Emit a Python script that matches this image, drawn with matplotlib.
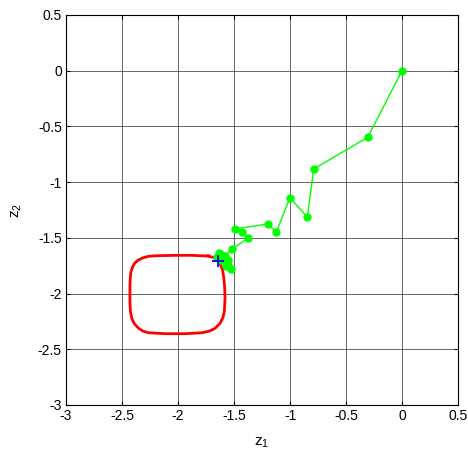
import numpy as np
import matplotlib.pyplot as plt

plt.rcParams["font.family"] = ["Liberation Sans", "DejaVu Sans"]

# trajectory (green)
traj_z1 = [0.0, -0.306, -0.789, -0.845, -1.0, -1.123, -1.194, -1.488, -1.43, -1.375,
           -1.52, -1.58, -1.63, -1.6, -1.55, -1.57, -1.53, -1.56, -1.61, -1.65,
           -1.59, -1.55, -1.6, -1.62]
traj_z2 = [0.0, -0.598, -0.882, -1.316, -1.14, -1.449, -1.376, -1.418, -1.45, -1.502,
           -1.603, -1.66, -1.64, -1.68, -1.7, -1.75, -1.78, -1.72, -1.65, -1.67,
           -1.7, -1.74, -1.69, -1.70]

# closed curve (red)
cyc_z1 = [-1.729, -1.878, -2.027, -2.176, -2.26, -2.31, -2.354, -2.385, -2.405, -2.42,
          -2.427, -2.429, -2.429, -2.425, -2.412, -2.39, -2.354, -2.31, -2.26, -2.116,
          -1.938, -1.789, -1.72, -1.67, -1.625, -1.599, -1.586, -1.58, -1.583, -1.59,
          -1.601, -1.62, -1.645, -1.68, -1.729]
cyc_z2 = [-1.663, -1.657, -1.657, -1.66, -1.665, -1.678, -1.699, -1.725, -1.76, -1.804,
          -1.87, -1.924, -2.074, -2.16, -2.225, -2.27, -2.31, -2.338, -2.352, -2.36,
          -2.36, -2.352, -2.337, -2.312, -2.268, -2.215, -2.16, -2.043, -1.95, -1.87,
          -1.79, -1.74, -1.705, -1.677, -1.663]

eq_z1 = [-1.64]
eq_z2 = [-1.712]

fig = plt.figure(figsize=(4.68, 4.51), dpi=100)
ax = fig.add_axes([66 / 468, 1 - 405 / 451, 392 / 468, 390 / 451])

ax.plot(cyc_z1, cyc_z2, color="red", lw=2, solid_joinstyle="round")
ax.plot(traj_z1, traj_z2, color="#00ff00", lw=1, marker="o", ms=5)
ax.plot(eq_z1, eq_z2, color="blue", marker="+", ms=8, mew=1.3, ls="none")

ax.set_xlim(-3, 0.5)
ax.set_ylim(-3, 0.5)
ax.set_xticks(np.arange(-3, 0.51, 0.5))
ax.set_yticks(np.arange(-3, 0.51, 0.5))
ax.set_xticklabels(["-3", "-2.5", "-2", "-1.5", "-1", "-0.5", "0", "0.5"])
ax.set_yticklabels(["-3", "-2.5", "-2", "-1.5", "-1", "-0.5", "0", "0.5"])
ax.grid(True, color="#4d4d4d", lw=0.6)
ax.set_axisbelow(True)
ax.tick_params(direction="in", top=True, right=True, length=3, labelsize=10, pad=3)
for s in ax.spines.values():
    s.set_linewidth(0.8)

ax.set_xlabel("$\\mathregular{z_1}$", fontsize=11, labelpad=9)
ax.set_ylabel("$\\mathregular{z_2}$", fontsize=11, labelpad=10)

fig.savefig("out.png", dpi=100)
